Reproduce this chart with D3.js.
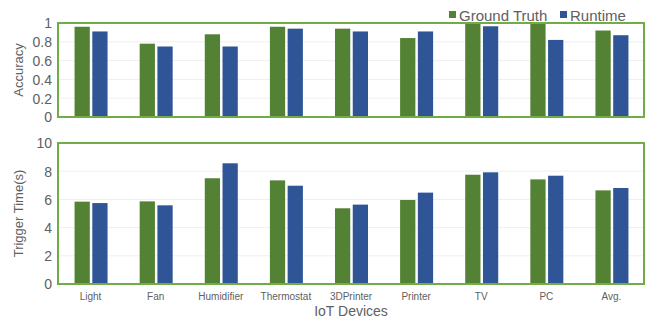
<!DOCTYPE html>
<html lang="en">
<head>
<meta charset="UTF-8"/>
<title>IoT devices: accuracy and trigger time</title>
<script src="https://d3js.org/d3.v7.min.js"></script>
<style>
    body { margin: 0; background: #fff; }
    text { font-family: "Liberation Sans", Arial, sans-serif; fill: #606060; }
</style>
</head>
<body>
<div id="chart"></div>
<script>
var devices = ["Light", "Fan", "Humidifier", "Thermostat", "3DPrinter", "Printer", "TV", "PC", "Avg."];
var series = ["Ground Truth", "Runtime"];
var accGround = [0.96, 0.78, 0.88, 0.96, 0.94, 0.84, 1.0, 1.0, 0.92];
var accRuntime = [0.91, 0.75, 0.75, 0.94, 0.91, 0.91, 0.965, 0.82, 0.87];
var timeGround = [5.84, 5.86, 7.5, 7.35, 5.37, 5.96, 7.75, 7.42, 6.64];
var timeRuntime = [5.74, 5.58, 8.56, 6.97, 5.63, 6.48, 7.92, 7.68, 6.81];
var accTicks = [0, 0.2, 0.4, 0.6, 0.8, 1];
var timeTicks = [0, 2, 4, 6, 8, 10];

var colors = ["#548235", "#2f5597"];
var W = 645, H = 321;
var left = 58, right = 644;

var svg = d3.select("#chart").append("svg")
    .attr("width", W).attr("height", H);

var x = d3.scaleBand().domain(devices).range([left, right]);
var xs = d3.scaleBand().domain(series).range([x.bandwidth() / 2 - 16, x.bandwidth() / 2 + 17]).paddingInner(0.14);

function panel(top, bottom, maxV, ticks, ground, runtime, title) {
    var y = d3.scaleLinear().domain([0, maxV]).range([bottom, top]);
    var g = svg.append("g");

    // faint grid
    g.selectAll(".grid").data(ticks.slice(1, -1)).enter().append("line")
        .attr("x1", left).attr("x2", right)
        .attr("y1", function(d) { return y(d); })
        .attr("y2", function(d) { return y(d); })
        .attr("stroke", "#efefef").attr("stroke-width", 1);

    var rows = devices.map(function(d, i) { return {dev: d, vals: [ground[i], runtime[i]]}; });
    var grp = g.selectAll(".grp").data(rows).enter().append("g")
        .attr("transform", function(d) { return "translate(" + x(d.dev) + ",0)"; });
    grp.selectAll("rect").data(function(d) {
        return d.vals.map(function(v, k) { return {s: series[k], v: v, k: k}; });
    }).enter().append("rect")
        .attr("x", function(d) { return xs(d.s); })
        .attr("width", xs.bandwidth())
        .attr("y", function(d) { return y(d.v); })
        .attr("height", function(d) { return y(0) - y(d.v); })
        .attr("fill", function(d) { return colors[d.k]; });

    // frame
    g.append("rect")
        .attr("x", left).attr("y", top)
        .attr("width", right - left).attr("height", bottom - top)
        .attr("fill", "none").attr("stroke", "#70ad47").attr("stroke-width", 2);

    var axis = g.append("g")
        .attr("transform", "translate(" + (left - 6) + ",0)")
        .call(d3.axisLeft(y).tickValues(ticks).tickFormat(function(d) { return d; }).tickSize(0).tickPadding(0));
    axis.select(".domain").remove();
    axis.selectAll("text").style("font-size", "14px").attr("fill", "#606060").attr("dy", "0.35em");

    svg.append("text")
        .attr("transform", "translate(23," + ((top + bottom) / 2) + ") rotate(-90)")
        .attr("text-anchor", "middle")
        .style("font-size", "13px")
        .text(title);
    return y;
}

panel(23, 117, 1, accTicks, accGround, accRuntime, "Accuracy");
panel(143, 284, 10, timeTicks, timeGround, timeRuntime, "Trigger Time(s)");

// x labels
var xa = svg.append("g")
    .attr("transform", "translate(0,293)")
    .call(d3.axisBottom(x).tickSize(0).tickPadding(0));
xa.select(".domain").remove();
xa.selectAll("text").style("font-size", "10px").attr("fill", "#606060").attr("dy", "0.71em");

svg.append("text")
    .attr("x", 351).attr("y", 316)
    .attr("text-anchor", "middle")
    .style("font-size", "14px")
    .text("IoT Devices");

// legend
var leg = svg.append("g");
var legX = [449, 560];
series.forEach(function(s, i) {
    leg.append("rect").attr("x", legX[i]).attr("y", 11).attr("width", 7).attr("height", 7).attr("fill", colors[i]);
    leg.append("text").attr("x", legX[i] + 10).attr("y", 20.5)
        .style("font-size", "15px").text(s);
});
</script>
</body>
</html>
